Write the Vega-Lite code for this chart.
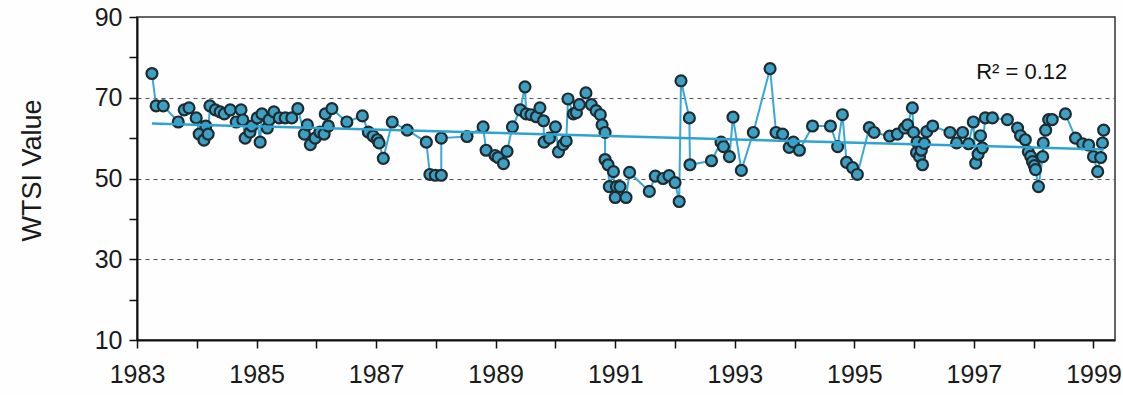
{
  "$schema": "https://vega.github.io/schema/vega-lite/v6.json",
  "width": 978,
  "height": 323,
  "autosize": {"type": "none"},
  "padding": {"left": 137, "top": 17, "right": 8, "bottom": 55},
  "background": "#fefefe",
  "config": {"view": {"stroke": "#333333", "strokeWidth": 1.5}, "font": "Liberation Sans"},
  "datasets": {
    "wtsi": [
      {"i":1,"t":1983.25,"v":76},{"i":2,"t":1983.32,"v":68},{"i":3,"t":1983.44,"v":68},{"i":4,"t":1983.69,"v":64},
      {"i":5,"t":1983.79,"v":67},{"i":6,"t":1983.87,"v":67.5},{"i":7,"t":1983.99,"v":65},{"i":8,"t":1984.04,"v":61},
      {"i":9,"t":1984.12,"v":59.5},{"i":10,"t":1984.15,"v":63},{"i":11,"t":1984.19,"v":61},{"i":12,"t":1984.22,"v":68},
      {"i":13,"t":1984.31,"v":67},{"i":14,"t":1984.39,"v":66.5},{"i":15,"t":1984.46,"v":66},{"i":16,"t":1984.56,"v":67},
      {"i":17,"t":1984.66,"v":64},{"i":18,"t":1984.74,"v":67},{"i":19,"t":1984.77,"v":64.5},{"i":20,"t":1984.81,"v":60},
      {"i":21,"t":1984.89,"v":61.5},{"i":22,"t":1984.92,"v":63},{"i":23,"t":1985.01,"v":65},{"i":24,"t":1985.06,"v":59},
      {"i":25,"t":1985.09,"v":66},{"i":26,"t":1985.18,"v":62.5},{"i":27,"t":1985.21,"v":64.5},{"i":28,"t":1985.29,"v":66.5},
      {"i":29,"t":1985.38,"v":65},{"i":30,"t":1985.48,"v":65},{"i":31,"t":1985.59,"v":65},{"i":32,"t":1985.69,"v":67.3},
      {"i":33,"t":1985.80,"v":61},{"i":34,"t":1985.85,"v":63.3},{"i":35,"t":1985.90,"v":58.4},{"i":36,"t":1985.98,"v":60},
      {"i":37,"t":1986.06,"v":61.5},{"i":38,"t":1986.13,"v":61},{"i":39,"t":1986.15,"v":66},{"i":40,"t":1986.20,"v":63},
      {"i":41,"t":1986.26,"v":67.3},{"i":42,"t":1986.51,"v":64},{"i":43,"t":1986.77,"v":65.5},{"i":44,"t":1986.87,"v":61.5},
      {"i":45,"t":1986.95,"v":60.5},{"i":46,"t":1987.02,"v":59.6},{"i":47,"t":1987.05,"v":58.8},{"i":48,"t":1987.12,"v":55},
      {"i":49,"t":1987.27,"v":64},{"i":50,"t":1987.52,"v":62},{"i":51,"t":1987.84,"v":59},{"i":52,"t":1987.90,"v":51},
      {"i":53,"t":1987.99,"v":50.8},{"i":54,"t":1988.09,"v":50.8},{"i":55,"t":1988.09,"v":60},{"i":56,"t":1988.52,"v":60.4},
      {"i":57,"t":1988.79,"v":62.8},{"i":58,"t":1988.84,"v":57},{"i":59,"t":1988.99,"v":55.7},{"i":60,"t":1989.04,"v":55.2},
      {"i":61,"t":1989.13,"v":53.7},{"i":62,"t":1989.19,"v":56.7},{"i":63,"t":1989.28,"v":62.8},{"i":64,"t":1989.41,"v":67},
      {"i":65,"t":1989.49,"v":72.7},{"i":66,"t":1989.51,"v":66},{"i":67,"t":1989.59,"v":65.8},{"i":68,"t":1989.68,"v":65.3},
      {"i":69,"t":1989.74,"v":67.5},{"i":70,"t":1989.80,"v":64.3},{"i":71,"t":1989.81,"v":59},{"i":72,"t":1989.90,"v":60},
      {"i":73,"t":1990.00,"v":62.8},{"i":74,"t":1990.05,"v":56.6},{"i":75,"t":1990.13,"v":58.4},{"i":76,"t":1990.18,"v":59.3},
      {"i":77,"t":1990.21,"v":69.7},{"i":78,"t":1990.30,"v":66},{"i":79,"t":1990.35,"v":66.3},{"i":80,"t":1990.40,"v":68.3},
      {"i":81,"t":1990.51,"v":71.2},{"i":82,"t":1990.60,"v":68.3},{"i":83,"t":1990.68,"v":66.8},{"i":84,"t":1990.75,"v":65.8},
      {"i":85,"t":1990.78,"v":63.3},{"i":86,"t":1990.83,"v":61.4},{"i":87,"t":1990.83,"v":54.7},{"i":88,"t":1990.88,"v":53.4},
      {"i":89,"t":1990.90,"v":48},{"i":90,"t":1990.97,"v":51.7},{"i":91,"t":1991.00,"v":45.3},{"i":92,"t":1991.02,"v":48},
      {"i":93,"t":1991.08,"v":48},{"i":94,"t":1991.18,"v":45.3},{"i":95,"t":1991.24,"v":51.5},{"i":96,"t":1991.57,"v":46.8},
      {"i":97,"t":1991.67,"v":50.6},{"i":98,"t":1991.80,"v":50},{"i":99,"t":1991.90,"v":50.7},{"i":100,"t":1992.00,"v":49},
      {"i":101,"t":1992.07,"v":44.3},{"i":102,"t":1992.10,"v":74.2},{"i":103,"t":1992.24,"v":65},{"i":104,"t":1992.25,"v":53.4},
      {"i":105,"t":1992.61,"v":54.4},{"i":106,"t":1992.77,"v":59},{"i":107,"t":1992.81,"v":57.9},{"i":108,"t":1992.91,"v":55.4},
      {"i":109,"t":1992.97,"v":65.2},{"i":110,"t":1993.11,"v":52},{"i":111,"t":1993.31,"v":61.4},{"i":112,"t":1993.59,"v":77.2},
      {"i":113,"t":1993.69,"v":61.4},{"i":114,"t":1993.80,"v":61},{"i":115,"t":1993.91,"v":57.7},{"i":116,"t":1993.98,"v":59},
      {"i":117,"t":1994.08,"v":57},{"i":118,"t":1994.30,"v":63},{"i":119,"t":1994.60,"v":63},{"i":120,"t":1994.72,"v":57.9},
      {"i":121,"t":1994.80,"v":65.8},{"i":122,"t":1994.87,"v":54},{"i":123,"t":1994.97,"v":52.7},{"i":124,"t":1995.05,"v":51},
      {"i":125,"t":1995.25,"v":62.6},{"i":126,"t":1995.33,"v":61.4},{"i":127,"t":1995.59,"v":60.5},{"i":128,"t":1995.72,"v":61},
      {"i":129,"t":1995.84,"v":62.5},{"i":130,"t":1995.89,"v":63.3},{"i":131,"t":1995.97,"v":67.5},{"i":132,"t":1995.99,"v":61.4},
      {"i":133,"t":1996.04,"v":56.4},{"i":134,"t":1996.05,"v":59},{"i":135,"t":1996.09,"v":55.4},{"i":136,"t":1996.12,"v":57},
      {"i":137,"t":1996.14,"v":53.4},{"i":138,"t":1996.17,"v":58.7},{"i":139,"t":1996.21,"v":61.6},{"i":140,"t":1996.31,"v":63},
      {"i":141,"t":1996.60,"v":61.4},{"i":142,"t":1996.71,"v":58.8},{"i":143,"t":1996.81,"v":61.4},{"i":144,"t":1996.91,"v":58.6},
      {"i":145,"t":1996.99,"v":64},{"i":146,"t":1997.03,"v":53.8},{"i":147,"t":1997.07,"v":56},{"i":148,"t":1997.11,"v":60.6},
      {"i":149,"t":1997.14,"v":57.6},{"i":150,"t":1997.19,"v":65},{"i":151,"t":1997.31,"v":65},{"i":152,"t":1997.56,"v":64.6},
      {"i":153,"t":1997.73,"v":62.5},{"i":154,"t":1997.78,"v":60.6},{"i":155,"t":1997.86,"v":59.6},{"i":156,"t":1997.91,"v":56.6},
      {"i":157,"t":1997.95,"v":55.5},{"i":158,"t":1997.98,"v":54.2},{"i":159,"t":1998.01,"v":53.2},{"i":160,"t":1998.03,"v":52.2},
      {"i":161,"t":1998.08,"v":48},{"i":162,"t":1998.15,"v":55.4},{"i":163,"t":1998.16,"v":58.8},{"i":164,"t":1998.20,"v":62},
      {"i":165,"t":1998.25,"v":64.6},{"i":166,"t":1998.31,"v":64.6},{"i":167,"t":1998.53,"v":66},{"i":168,"t":1998.70,"v":60},
      {"i":169,"t":1998.82,"v":58.6},{"i":170,"t":1998.92,"v":58.3},{"i":171,"t":1999.00,"v":55.4},{"i":172,"t":1999.07,"v":51.7},
      {"i":173,"t":1999.12,"v":55.2},{"i":174,"t":1999.15,"v":58.8},{"i":175,"t":1999.17,"v":62}
    ],
    "trend": [{"t": 1983.25, "v": 63.6}, {"t": 1999.17, "v": 57.2}],
    "note": [{"t": 1997.8, "v": 76.4, "label": "R² = 0.12"}]
  },
  "encoding": {
    "x": {
      "field": "t", "type": "quantitative",
      "scale": {"domain": [1983, 1999.36], "nice": false, "zero": false},
      "axis": {
        "title": null,
        "values": [1983,1984,1985,1986,1987,1988,1989,1990,1991,1992,1993,1994,1995,1996,1997,1998,1999],
        "format": "d",
        "labelExpr": "datum.value % 2 == 1 ? datum.label : ''",
        "grid": false,
        "tickSize": 8, "tickColor": "#111111", "tickWidth": 1.5,
        "domainColor": "#111111", "domainWidth": 2,
        "labelFontSize": 25, "labelColor": "#1a1a1a", "labelPadding": 14,
        "labelFlush": false, "labelOverlap": false, "labelBound": false
      }
    },
    "y": {
      "field": "v", "type": "quantitative",
      "scale": {"domain": [10, 90], "nice": false, "zero": false},
      "axis": {
        "title": "WTSI Value",
        "values": [10,20,30,40,50,60,70,80,90],
        "labelExpr": "datum.value % 20 == 10 ? datum.label : ''",
        "grid": true, "gridDash": [4, 4], "gridColor": "#555555", "gridWidth": 1.2,
        "gridOpacity": {"condition": {"test": "datum.value == 30 || datum.value == 50 || datum.value == 70", "value": 1}, "value": 0},
        "tickSize": 8, "tickColor": "#111111", "tickWidth": 1.5,
        "domainColor": "#111111", "domainWidth": 2,
        "labelFontSize": 25, "labelColor": "#1a1a1a", "labelPadding": 7,
        "labelOverlap": false, "labelBound": false,
        "titleFontSize": 27, "titleFontWeight": "normal", "titleColor": "#1a1a1a",
        "titleX": -105, "titleY": 153, "titleAngle": 270, "titleAlign": "center", "titleBaseline": "middle"
      }
    }
  },
  "layer": [
    {
      "data": {"name": "wtsi"},
      "mark": {"type": "line", "color": "#3aa7d6", "strokeWidth": 2},
      "encoding": {"order": {"field": "i", "type": "quantitative"}}
    },
    {
      "data": {"name": "wtsi"},
      "mark": {"type": "point", "shape": "circle", "filled": true, "fill": "#3d9fc1", "stroke": "#1e2b30", "strokeWidth": 2.2, "size": 120, "opacity": 1}
    },
    {
      "data": {"name": "trend"},
      "mark": {"type": "line", "color": "#2ea3d0", "strokeWidth": 2.5}
    },
    {
      "data": {"name": "note"},
      "mark": {"type": "text", "fontSize": 22, "align": "center", "baseline": "middle", "color": "#111111"},
      "encoding": {"text": {"field": "label"}}
    }
  ]
}
